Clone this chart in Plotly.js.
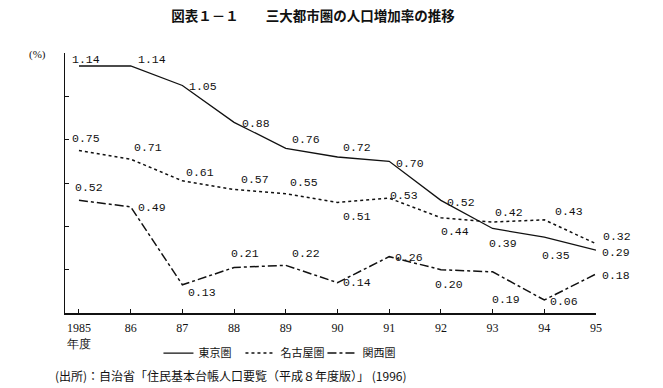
<!DOCTYPE html>
<html>
<head>
<meta charset="utf-8">
<script src="https://cdn.plot.ly/plotly-3.0.1.min.js"></script>
<style>html,body{margin:0;padding:0;background:#fff;}#chart{width:663px;height:388px;}</style>
</head>
<body>
<div id="chart"></div>
<script>
// ---- data ----
var years = [1985, 1986, 1987, 1988, 1989, 1990, 1991, 1992, 1993, 1994, 1995];
var yearLabels = ['1985<br>年度', '86', '87', '88', '89', '90', '91', '92', '93', '94', '95'];
var seriesNames = ['東京圏', '名古屋圏', '関西圏'];
var tokyo  = [1.14, 1.14, 1.05, 0.88, 0.76, 0.72, 0.70, 0.52, 0.39, 0.35, 0.29];
var nagoya = [0.75, 0.71, 0.61, 0.57, 0.55, 0.51, 0.53, 0.44, 0.42, 0.43, 0.32];
var kansai = [0.52, 0.49, 0.13, 0.21, 0.22, 0.14, 0.26, 0.20, 0.19, 0.06, 0.18];

// ---- label placement (pixel offsets: [dx, dy down]) ----
var tokyoOff  = [[7,-7],[21,-7],[21,1],[22,1],[20,-9],[20,-10],[21,2],[20,2],[10,15],[12,18],[20,2]];
var nagoyaOff = [[7,-12],[17,-12],[18,-8],[21,-10],[18,-11],[20,14],[15,-3],[14,14],[16,-10],[25,-8],[21,-7]];
var kansaiOff = [[10,-13],[21,1],[20,8],[11,-14],[20,-12],[20,0],[20,1],[8,15],[13,28],[20,1],[20,1]];

var ink = '#111';
var labelFont = {family: 'Liberation Mono, monospace', size: 11.5, color: ink};

var traces = [
  {x: years, y: tokyo, name: seriesNames[0], mode: 'lines', line: {color: ink, width: 1.3, dash: 'solid'}},
  {x: years, y: nagoya, name: seriesNames[1], mode: 'lines', line: {color: ink, width: 1.5, dash: 'dot'}},
  {x: years, y: kansai, name: seriesNames[2], mode: 'lines', line: {color: ink, width: 1.5, dash: 'dashdot'}}
];

var annotations = [];
function addLabels(vals, offs) {
  for (var i = 0; i < years.length; i++) {
    annotations.push({
      x: years[i], y: vals[i], xref: 'x', yref: 'y',
      text: vals[i].toFixed(2), showarrow: false,
      xshift: offs[i][0], yshift: -offs[i][1],
      font: labelFont
    });
  }
}
addLabels(tokyo, tokyoOff);
addLabels(nagoya, nagoyaOff);
addLabels(kansai, kansaiOff);

annotations.push({
  x: -0.0716, y: 1.027, xref: 'paper', yref: 'paper', text: '(%)', showarrow: false,
  font: {family: 'Liberation Serif, serif', size: 11, color: ink}
});
annotations.push({
  x: -0.0226, y: -0.242, xref: 'paper', yref: 'paper', xanchor: 'left', yanchor: 'middle',
  text: '(出所)：自治省「住民基本台帳人口要覧（平成８年度版）」 (1996)', showarrow: false,
  font: {family: 'Noto Sans CJK JP, sans-serif', size: 12, color: ink}
});

var layout = {
  width: 663, height: 388,
  margin: {l: 65, r: 67, t: 53, b: 75},
  paper_bgcolor: '#fff', plot_bgcolor: '#fff',
  title: {
    text: '図表１－１　　三大都市圏の人口増加率の推移',
    x: 0.472, xanchor: 'center', y: 0.959, yanchor: 'middle',
    font: {family: 'Noto Sans CJK JP, sans-serif', size: 13.5, color: ink, weight: 'bold'}
  },
  xaxis: {
    range: [1984.73, 1995],
    tickvals: years, ticktext: yearLabels,
    ticks: 'inside', ticklen: 4, tickcolor: ink, tickwidth: 1,
    ticklabelstandoff: 3,
    showline: true, linecolor: ink, linewidth: 1.5,
    showgrid: false, zeroline: false,
    tickfont: {family: 'Liberation Serif, serif', size: 12, color: ink}
  },
  yaxis: {
    range: [0, 1.2],
    tickvals: [0, 0.2, 0.4, 0.6, 0.8, 1.0, 1.2],
    showticklabels: false,
    ticks: 'inside', ticklen: 4, tickcolor: ink, tickwidth: 1,
    showline: true, linecolor: ink, linewidth: 1.5,
    showgrid: false, zeroline: false
  },
  showlegend: true,
  legend: {
    orientation: 'h', x: 0.176, y: -0.154, xanchor: 'left', yanchor: 'middle',
    entrywidth: 37, entrywidthmode: 'pixels',
    font: {family: 'Noto Sans CJK JP, sans-serif', size: 11, color: ink},
    bgcolor: 'rgba(0,0,0,0)'
  },
  annotations: annotations
};

Plotly.newPlot('chart', traces, layout, {displayModeBar: false, staticPlot: true});
</script>
</body>
</html>
